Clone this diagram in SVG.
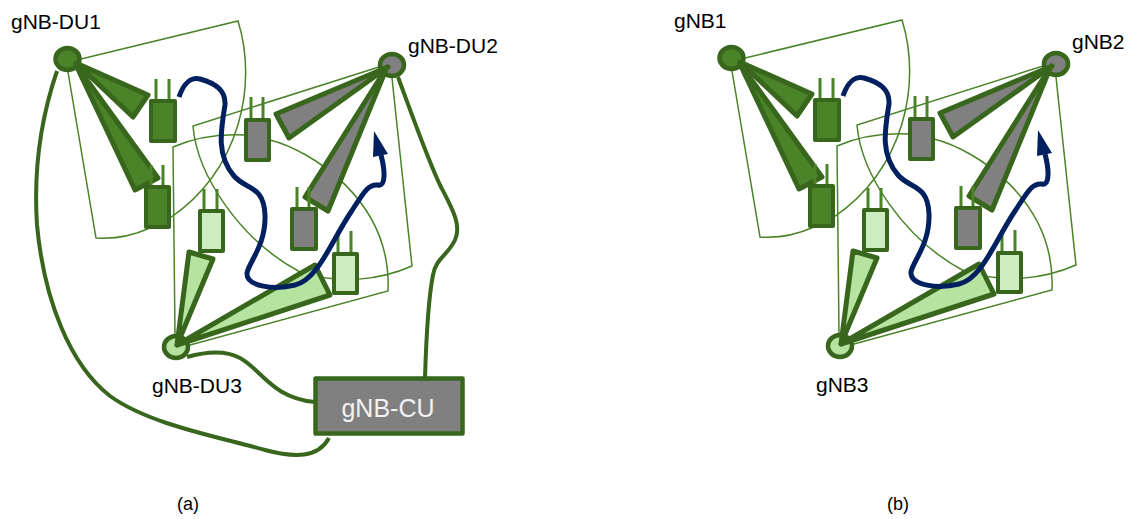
<svg xmlns="http://www.w3.org/2000/svg" width="1129" height="519" viewBox="0 0 1129 519">
<style>
text{font-family:"Liberation Sans",Arial,sans-serif;font-size:21px;fill:#000}
.sec{fill:none;stroke:#4a8328;stroke-width:1.5}
.ant{fill:none;stroke:#4a8328;stroke-width:3}
.w,.d,.n{stroke:#38661d;stroke-linejoin:round}
.w{stroke-width:5}.d{stroke-width:4}.n{stroke-width:4.500}
.g1{fill:#4a8328}.g2{fill:#808080}.g3{fill:#b5e3a0}.g3d{fill:#cdecc0}
.link{fill:none;stroke:#38661d;stroke-width:4}
.path{fill:none;stroke:#002060;stroke-width:5}
.tip{fill:#002060}
</style>
<rect width="1129" height="519" fill="#fff"/>

<g id="coverage-a">
<path class="sec" d="M81 59L238 21C258 85 240 170 170 218M150 228Q123 240 96 238L68 72"/>
<path class="sec" d="M379 67L193 126C197 175 240 240 300 272C340 285 380 280 412 266L392 78"/>
<path class="sec" d="M175 335L173 147Q205 133 245 135M270 140C310 150 392 200 388 291L190 345"/>
</g>
<g id="coverage-b" transform="translate(664,-1)">
<path class="sec" d="M81 59L238 21C258 85 240 170 170 218M150 228Q123 240 96 238L68 72"/>
<path class="sec" d="M379 67L193 126C197 175 240 240 300 272C340 285 380 280 412 266L392 78"/>
<path class="sec" d="M175 335L173 147Q205 133 245 135M270 140C310 150 392 200 388 291L190 345"/>
</g>

<g id="gNB-DU1">
<ellipse class="n g1" cx="67.500" cy="59" rx="12" ry="11"/>
<path class="w g1" d="M76 63L148 95L133 117Z"/><path class="w g1" d="M76 65L158 178L135 190Z"/>
<path class="ant" d="M156 79V101M169 79V101M151 165V187M163 165V187"/>
<rect class="d g1" x="151" y="101" width="24" height="40"/><rect class="d g1" x="146" y="187" width="23" height="40"/>
</g>
<g id="gNB-DU2">
<ellipse class="n g2" cx="392" cy="65" rx="12" ry="11"/>
<path class="w g2" d="M388 67L276 114L289 138Z"/><path class="w g2" d="M387 67L305 197L328 211Z"/>
<path class="ant" d="M251 97V120M263 97V120M297 187V209M309 187V209"/>
<rect class="d g2" x="246" y="120" width="23" height="40"/><rect class="d g2" x="292" y="209" width="24" height="40"/>
</g>
<g id="gNB-DU3">
<ellipse class="n g3" cx="176" cy="347" rx="12" ry="11"/>
<path class="w g3" d="M177 345L189 252L213 259Z"/><path class="w g3" d="M177 345L315 265L330 295Z"/>
<path class="ant" d="M204 189V211M217 189V211M338 231V254M351 231V254"/>
<rect class="d g3d" x="200" y="211" width="23" height="40"/><rect class="d g3d" x="334" y="254" width="23" height="39"/>
</g>
<g id="gNB-CU">
<rect x="315.500" y="378.500" width="147" height="55" fill="#808080" stroke="#38661d" stroke-width="4.500" stroke-linejoin="round"/>
<text x="388" y="417" text-anchor="middle" style="font-size:25px;fill:#f2f2f2">gNB-CU</text>
</g>
<g id="gNB1" transform="translate(664,-1)">
<ellipse class="n g1" cx="67.500" cy="59" rx="12" ry="11"/>
<path class="w g1" d="M76 63L148 95L133 117Z"/><path class="w g1" d="M76 65L158 178L135 190Z"/>
<path class="ant" d="M156 79V101M169 79V101M151 165V187M163 165V187"/>
<rect class="d g1" x="151" y="101" width="24" height="40"/><rect class="d g1" x="146" y="187" width="23" height="40"/>
</g>
<g id="gNB2" transform="translate(664,-1)">
<ellipse class="n g2" cx="392" cy="65" rx="12" ry="11"/>
<path class="w g2" d="M388 67L276 114L289 138Z"/><path class="w g2" d="M387 67L305 197L328 211Z"/>
<path class="ant" d="M251 97V120M263 97V120M297 187V209M309 187V209"/>
<rect class="d g2" x="246" y="120" width="23" height="40"/><rect class="d g2" x="292" y="209" width="24" height="40"/>
</g>
<g id="gNB3" transform="translate(664,-1)">
<ellipse class="n g3" cx="176" cy="347" rx="12" ry="11"/>
<path class="w g3" d="M177 345L189 252L213 259Z"/><path class="w g3" d="M177 345L315 265L330 295Z"/>
<path class="ant" d="M204 189V211M217 189V211M338 231V254M351 231V254"/>
<rect class="d g3d" x="200" y="211" width="23" height="40"/><rect class="d g3d" x="334" y="254" width="23" height="39"/>
</g>

<g id="connectors">
<path class="link" d="M57 71C42 115 33 165 37 225C44 300 70 365 110 396C150 425 220 437 265 450C295 458 318 458 329 438"/>
<path class="link" d="M187 357C205 352 225 350 240 358C262 370 272 398 315 402"/>
<path class="link" d="M398 77C412 115 428 160 440 185C452 208 462 225 455 240C448 255 436 258 433 275C428 300 426 345 425 378"/>
<g id="handover-a">
<path class="path" d="M179 97C184 82 192 77 200 79C215 83 226 90 225 105C221 130 216 155 234 176C246 190 264 185 265 215C266 245 249 262 247 273C246 287 275 290 295 285C318 280 332 240 351 212C364 192 368 184 378 185C386 187 385 170 381 155"/>
<path class="tip" d="M374 131L373 157L388 154Z"/>
</g>
<g id="handover-b" transform="translate(664,-1)">
<path class="path" d="M179 97C184 82 192 77 200 79C215 83 226 90 225 105C221 130 216 155 234 176C246 190 264 185 265 215C266 245 249 262 247 273C246 287 275 290 295 285C318 280 332 240 351 212C364 192 368 184 378 185C386 187 385 170 381 155"/>
<path class="tip" d="M374 131L373 157L388 154Z"/>
</g>
</g>

<g id="labels">
<text x="11" y="29">gNB-DU1</text>
<text x="408" y="53">gNB-DU2</text>
<text x="152" y="393">gNB-DU3</text>
<text x="674" y="28">gNB1</text>
<text x="1072" y="49">gNB2</text>
<text x="816" y="392">gNB3</text>
<text x="177" y="510" style="font-size:18px">(a)</text>
<text x="887" y="510" style="font-size:18px">(b)</text>
</g>
</svg>
